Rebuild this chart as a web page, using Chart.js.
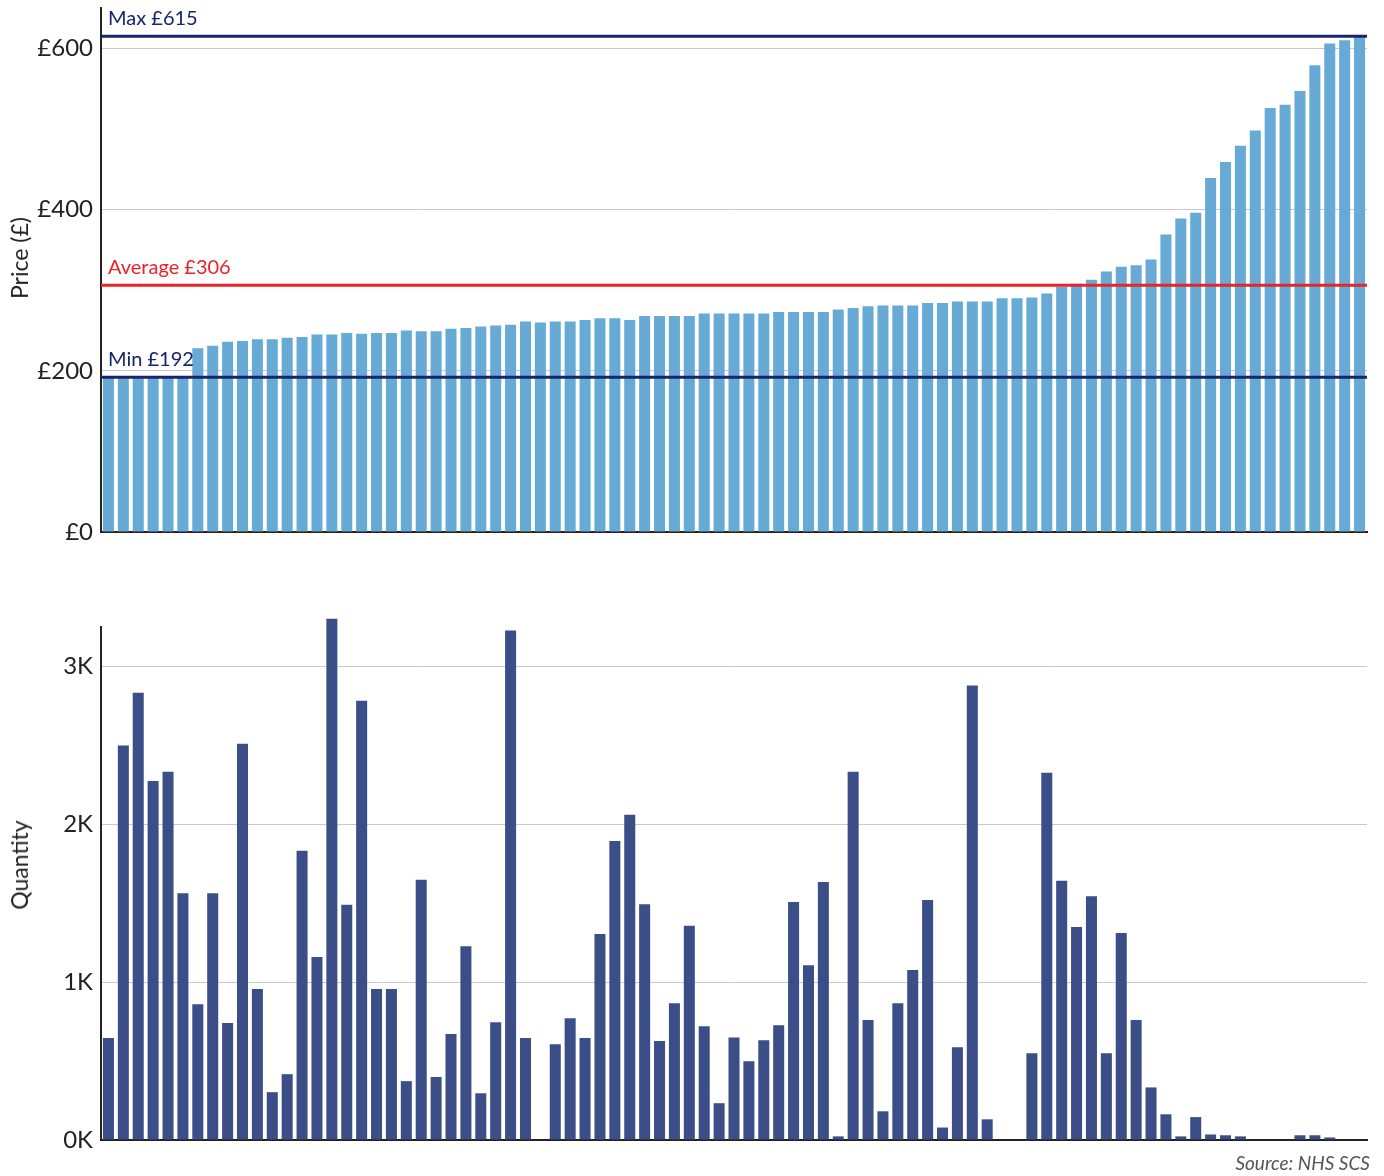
<!DOCTYPE html>
<html>
<head>
<meta charset="utf-8">
<script src="https://cdn.jsdelivr.net/npm/chart.js@4.4.1/dist/chart.umd.min.js"></script>
<style>
    body { margin: 0; background: #fff; font-family: Lato, sans-serif; }
    #wrap { position: relative; width: 1384px; height: 1176px; overflow: hidden; }
    #priceChart { position: absolute; left: 0; top: 0; }
    #qtyChart { position: absolute; left: 0; top: 590px; }
    .ytitle {
        position: absolute; font-size: 23px; color: #222; white-space: nowrap;
        transform: translate(-50%, -50%) rotate(-90deg);
    }
    #source {
        position: absolute; right: 14px; top: 1152px; line-height: 22px;
        font-size: 19px; font-style: italic; color: #555;
    }
</style>
</head>
<body>
<div id="wrap">
    <canvas id="priceChart" width="1384" height="550"></canvas>
    <canvas id="qtyChart" width="1384" height="586"></canvas>
    <div class="ytitle" style="left:19px; top:258px;">Price (£)</div>
    <div class="ytitle" style="left:19px; top:865px;">Quantity</div>
    <div id="source">Source: NHS SCS</div>
</div>
<script>
// price per unit, sorted low -> high (£)
var prices = [
    192, 192, 192, 192, 192, 192, 228, 231, 236, 237,
    239, 239, 241, 242, 245, 245, 247, 246, 247, 247,
    250, 249, 249, 252, 253, 255, 256, 257, 261, 260,
    261, 261, 263, 265, 265, 263, 268, 268, 268, 268,
    271, 271, 271, 271, 271, 273, 273, 273, 273, 276,
    278, 280, 281, 281, 281, 284, 284, 286, 286, 286,
    290, 290, 291, 296, 304, 308, 313, 323, 329, 331,
    338, 369, 389, 396, 439, 459, 479, 498, 526, 530,
    547, 579, 606, 610, 615
];
// quantity bought at each price
var quantities = [
    646, 2499, 2834, 2275, 2333, 1564, 860, 1564, 741, 2510,
    956, 303, 417, 1832, 1159, 3303, 1490, 2783, 956, 956,
    373, 1648, 399, 671, 1228, 296, 746, 3228, 646, 0,
    606, 772, 646, 1305, 1895, 2061, 1494, 627, 867, 1357,
    720, 233, 650, 499, 632, 727, 1508, 1107, 1634, 23,
    2333, 760, 182, 867, 1077, 1520, 79, 587, 2879, 131,
    0, 0, 550, 2326, 1643, 1350, 1545, 550, 1312, 760,
    333, 163, 23, 145, 35, 30, 23, 0, 0, 0,
    30, 30, 16, 0, 0
];
var categories = prices.map(function (p, i) { return String(i + 1); });

var priceTicks = [0, 200, 400, 600];
var qtyTicks = [0, 1000, 2000, 3000];

var refValues = [615, 306, 192];
var refLabels = ['Max £615', 'Average £306', 'Min £192'];
var refColors = ['#17256c', '#ec2229', '#17256c'];

// max / average / min lines, drawn on the price scale
var refLinePlugin = {
    id: 'refLines',
    afterDraw: function (chart) {
        var ctx = chart.ctx;
        var area = chart.chartArea;
        var yScale = chart.scales.y;
        ctx.save();
        refValues.forEach(function (v, i) {
            var py = yScale.getPixelForValue(v);
            ctx.strokeStyle = refColors[i];
            ctx.lineWidth = 3;
            ctx.beginPath();
            ctx.moveTo(area.left, py);
            ctx.lineTo(area.right, py);
            ctx.stroke();
            ctx.fillStyle = refColors[i];
            ctx.font = '20px Lato';
            ctx.textBaseline = 'alphabetic';
            ctx.textAlign = 'left';
            ctx.fillText(refLabels[i], area.left + 7, py - 11);
        });
        ctx.restore();
    }
};

function makeOptions(maxVal, tickValues, tickFormat, padding) {
    return {
        responsive: false,
        animation: false,
        layout: { padding: padding },
        plugins: { legend: { display: false }, tooltip: { enabled: false } },
        scales: {
            x: {
                z: 2,
                grid: { display: false },
                ticks: { display: false },
                border: { color: '#222', width: 2 },
                afterFit: function (scale) { scale.height = 0; }
            },
            y: {
                z: 1,
                min: 0,
                max: maxVal,
                afterBuildTicks: function (scale) {
                    scale.ticks = tickValues.map(function (v) { return { value: v }; });
                },
                afterFit: function (scale) {
                    // fixed plot box, labels may hang over the edges
                    scale.width = 101;
                    scale.paddingTop = 0;
                    scale.paddingBottom = 0;
                },
                grid: {
                    drawTicks: false,
                    lineWidth: 1,
                    color: function (c) { return c.tick && c.tick.value === 0 ? 'rgba(0,0,0,0)' : '#c9c9c9'; }
                },
                border: { color: '#222', width: 2 },
                ticks: {
                    padding: 8,
                    color: '#222',
                    font: { family: 'Lato', size: 24 },
                    callback: tickFormat
                }
            }
        }
    };
}

new Chart(document.getElementById('priceChart'), {
    type: 'bar',
    data: {
        labels: categories,
        datasets: [{
            data: prices,
            backgroundColor: '#67aad6',
            barPercentage: 0.74,
            categoryPercentage: 1
        }]
    },
    options: makeOptions(650, priceTicks, function (v) { return '£' + v; },
        { top: 8, right: 17, bottom: 18, left: 0 }),
    plugins: [refLinePlugin]
});

new Chart(document.getElementById('qtyChart'), {
    type: 'bar',
    data: {
        labels: categories,
        datasets: [{
            data: quantities,
            backgroundColor: '#3c4e88',
            barPercentage: 0.74,
            categoryPercentage: 1,
            clip: false
        }]
    },
    options: makeOptions(3250, qtyTicks, function (v) { return (v / 1000) + 'K'; },
        { top: 37, right: 17, bottom: 36, left: 0 })
});
</script>
</body>
</html>
